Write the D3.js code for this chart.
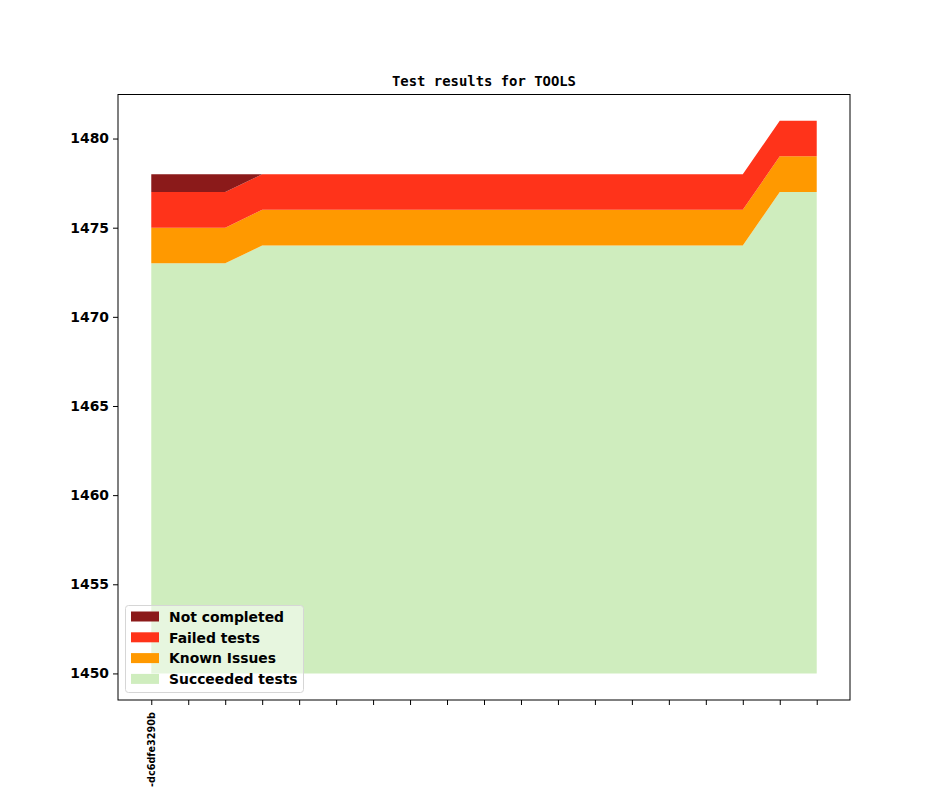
<!DOCTYPE html>
<html><head><meta charset="utf-8">
<script src="https://cdn.jsdelivr.net/npm/d3@7"></script>
<style>body{margin:0;background:#fff}svg{display:block}</style>
</head><body>
<svg id="c" width="944" height="787"></svg>
<script>
const commits = Array.from({length:19}, (_, i) => i);
const tickLabels = ["-dc6dfe3290b","","","","","","","","","","","","","","","","","",""];
const succeeded = [1473,1473,1473,1474,1474,1474,1474,1474,1474,1474,1474,1474,1474,1474,1474,1474,1474,1477,1477];
const known     = [2,2,2,2,2,2,2,2,2,2,2,2,2,2,2,2,2,2,2];
const failed    = [2,2,2,2,2,2,2,2,2,2,2,2,2,2,2,2,2,2,2];
const notDone   = [1,1,1,0,0,0,0,0,0,0,0,0,0,0,0,0,0,0,0];
const baseline = 1450;
const yTicks = [1450,1455,1460,1465,1470,1475,1480];
const seriesNames = ["Succeeded tests","Known Issues","Failed tests","Not completed"];
const colors = ["#cfedbe","#ff9900","#ff331a","#8b1a1a"];

const svg = d3.select("#c");
const L=118, R=850, T=94.5, B=700;
const x = d3.scaleLinear().domain([-0.9, 18.9]).range([L, R]);
const y = d3.scaleLinear().domain([1448.51, 1482.47]).range([B, T]);

const vals = [succeeded, known, failed, notDone];
const layers = [];
let lower = commits.map(() => baseline);
vals.forEach((v, k) => {
  const low = lower.slice();
  const up = commits.map((_, i) => (k === 0 ? v[i] : low[i] + v[i]));
  layers.push({low, up, color: colors[k]});
  lower = up;
});
const area = d3.area().x(d => x(d.i)).y0(d => y(d.lo)).y1(d => y(d.hi));
layers.forEach(l => {
  svg.append("path")
    .attr("d", area(commits.map(i => ({i, lo: l.low[i], hi: l.up[i]}))))
    .attr("fill", l.color);
});

// axes
const yAxis = d3.axisLeft(y).tickValues(yTicks).tickSize(5).tickPadding(4).tickFormat(d3.format("d"));
const gy = svg.append("g").attr("transform", `translate(${L},0)`).call(yAxis);
gy.select(".domain").remove();
gy.selectAll("text").attr("font-family","DejaVu Sans").attr("font-weight","bold").attr("font-size","13.9px").attr("fill","#000");
gy.selectAll("line").attr("stroke","#000").attr("stroke-width",1);

const xAxis = d3.axisBottom(x).tickValues(commits).tickSize(5).tickFormat(() => "");
const gx = svg.append("g").attr("transform", `translate(0,${B})`).call(xAxis);
gx.select(".domain").remove();
gx.selectAll("line").attr("stroke","#000").attr("stroke-width",1);
gx.selectAll(".tick").append("text")
  .text((d, i) => tickLabels[i])
  .attr("transform", "translate(0,12) rotate(-90)")
  .attr("x", 0).attr("y", 0).attr("dy", "0.35em")
  .attr("text-anchor", "end")
  .attr("font-family","DejaVu Sans").attr("font-weight","bold").attr("font-size","9.7px").attr("fill","#000");

svg.append("rect").attr("x", L).attr("y", T).attr("width", R-L).attr("height", B-T)
  .attr("fill","none").attr("stroke","#000").attr("stroke-width",1);

svg.append("text").attr("x", (L+R)/2).attr("y", 86).attr("text-anchor","middle")
  .attr("font-family","DejaVu Sans Mono").attr("font-weight","bold").attr("font-size","13.9px")
  .text("Test results for TOOLS");

// legend
const lg = svg.append("g");
lg.append("rect").attr("x",125.5).attr("y",605.5).attr("width",178).attr("height",87).attr("rx",3)
  .attr("fill","rgba(255,255,255,0.5)").attr("stroke","#d6d6d6").attr("stroke-width",1);
const order = [3,2,1,0];
order.forEach((k, j) => {
  const yy = 617 + j*20.8;
  lg.append("rect").attr("x",131).attr("y",yy-5.5).attr("width",28).attr("height",10).attr("fill",colors[k]);
  lg.append("text").attr("x",169).attr("y",yy).attr("dy","0.35em")
    .attr("font-family","DejaVu Sans").attr("font-weight","bold").attr("font-size","13.9px").attr("fill","#000")
    .text(seriesNames[k]);
});
</script>
</body></html>
